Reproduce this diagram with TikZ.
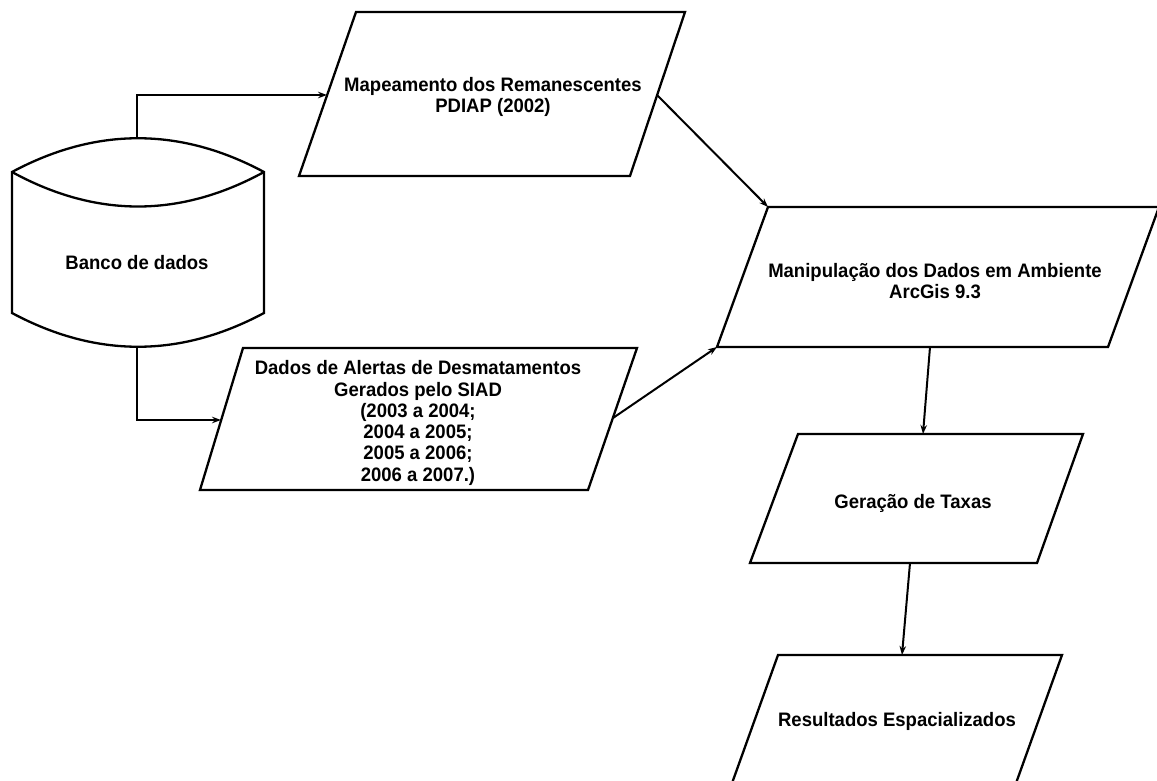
\documentclass[tikz,border=0pt]{standalone}
\usepackage{fontspec}
\setmainfont{Liberation Sans}[FakeStretch=0.95]
\usetikzlibrary{arrows.meta}
\begin{document}
\begin{tikzpicture}[x=1pt,y=-1pt,
  outl/.style={draw=black,line width=2.3pt,line join=miter},
  conn/.style={draw=black,line width=2pt,-{Stealth[length=9pt,width=6.5pt]}},
  txt/.style={font=\fontsize{19.5}{21.3}\selectfont\bfseries,align=center,inner sep=0pt}]
\useasboundingbox (0,0) rectangle (1157,781);
\clip (0,0) rectangle (1157,781);
\fill[white] (0,0) rectangle (1157,781);
% database cylinder
\coordinate (dbtop) at (137,138);
\coordinate (dbbot) at (137,347);
\draw[outl] (12,172) .. controls (96,127) and (180,127) .. (264,172)
  -- (264,313) .. controls (180,358) and (96,358) .. (12,313) -- cycle;
\draw[outl] (12,172) .. controls (96,218) and (180,218) .. (264,172);
\node[txt] (db) at (137,263) {Banco de dados};
% parallelogram 1
\coordinate (p1a) at (299,176);
\coordinate (p1b) at (356,12);
\coordinate (p1c) at (685,12);
\coordinate (p1d) at (630,176);
\draw[outl] (p1a) -- (p1b) -- (p1c) -- (p1d) -- cycle;
\node[txt] (p1) at (493,97) {Mapeamento dos Remanescentes\\PDIAP (2002)};
% parallelogram 2
\coordinate (p2a) at (200,490);
\coordinate (p2b) at (243,348);
\coordinate (p2c) at (637,348);
\coordinate (p2d) at (588,490);
\draw[outl] (p2a) -- (p2b) -- (p2c) -- (p2d) -- cycle;
\node[txt] (p2) at (418,423) {Dados de Alertas de Desmatamentos\\Gerados pelo SIAD\\(2003 a 2004;\\2004 a 2005;\\ 2005 a 2006;\\2006 a 2007.)};
% parallelogram 3
\coordinate (p3a) at (717,347);
\coordinate (p3b) at (768,207);
\coordinate (p3c) at (1159,207);
\coordinate (p3d) at (1108,347);
\draw[outl] (p3a) -- (p3b) -- (p3c) -- (p3d) -- cycle;
\node[txt] (p3) at (935,281) {Manipulação dos Dados em Ambiente\\ArcGis 9.3};
% parallelogram 4
\coordinate (p4a) at (750,563);
\coordinate (p4b) at (798,434);
\coordinate (p4c) at (1083,434);
\coordinate (p4d) at (1037,563);
\draw[outl] (p4a) -- (p4b) -- (p4c) -- (p4d) -- cycle;
\node[txt] (p4) at (913,503) {Geração de Taxas};
% parallelogram 5
\coordinate (p5a) at (731,786);
\coordinate (p5b) at (778,655);
\coordinate (p5c) at (1062,655);
\coordinate (p5d) at (1015,786);
\draw[outl] (p5a) -- (p5b) -- (p5c) -- (p5d) -- cycle;
\node[txt] (p5) at (897,721) {Resultados Espacializados};
% connectors
\coordinate (p1west) at (327,95);
\coordinate (p2west) at (221,420);
\coordinate (p1east) at (657,95);
\coordinate (p2east) at (613,418);
\coordinate (p3bot) at (930,347);
\coordinate (p4top) at (923,434);
\coordinate (p4bot) at (910,563);
\coordinate (p5top) at (902,655);
\draw[conn] (dbtop) |- (p1west);
\draw[conn] (dbbot) |- (p2west);
\draw[conn] (p1east) -- (p3b);
\draw[conn] (p2east) -- (p3a);
\draw[conn] (p3bot) -- (p4top);
\draw[conn] (p4bot) -- (p5top);
\end{tikzpicture}
\end{document}
